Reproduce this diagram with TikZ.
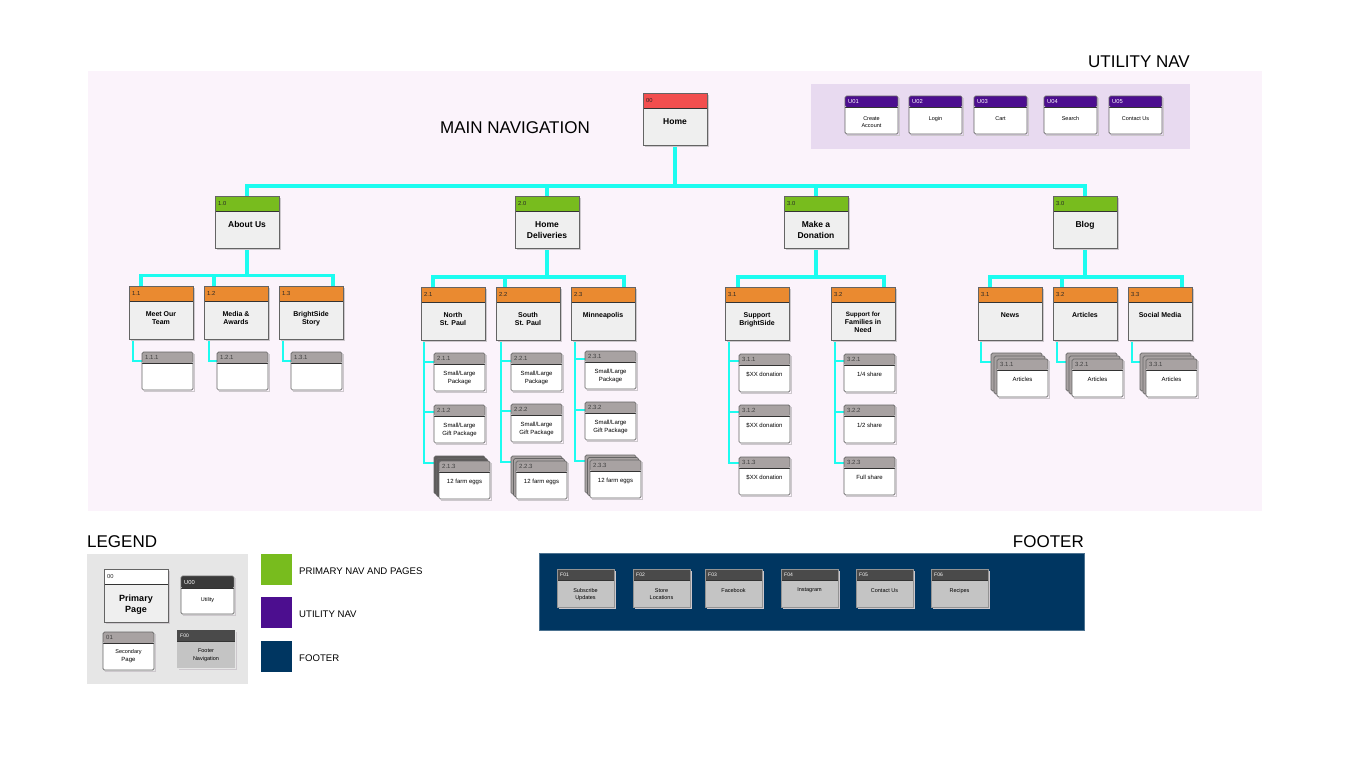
\documentclass[tikz,border=0pt]{standalone}
\usepackage{fontspec}
\setmainfont{Liberation Sans}
\usetikzlibrary{calc}
\pgfdeclarelayer{back}
\pgfdeclarelayer{wires}
\pgfsetlayers{back,wires,main}
\definecolor{pinkbg}{RGB}{251,243,251}
\definecolor{utilbg}{RGB}{232,218,240}
\definecolor{conncol}{RGB}{28,252,240}
\definecolor{hred}{RGB}{242,78,78}
\definecolor{pgreen}{RGB}{120,188,30}
\definecolor{porange}{RGB}{234,138,48}
\definecolor{hgray}{RGB}{168,162,162}
\definecolor{bodyg}{RGB}{239,239,239}
\definecolor{cardline}{RGB}{100,100,100}
\definecolor{upurple}{RGB}{76,14,143}
\definecolor{navy}{RGB}{0,54,97}
\definecolor{fhdr}{RGB}{74,74,74}
\definecolor{fbody}{RGB}{196,196,196}
\definecolor{legbg}{RGB}{230,230,230}
\definecolor{udark}{RGB}{58,58,58}
\definecolor{darkstack}{RGB}{95,92,92}
\definecolor{shadowc}{RGB}{205,200,205}
\tikzset{
  cardbase/.style={draw=cardline, line width=0.7pt, inner sep=0pt, outer sep=0pt, anchor=north west},
  hdrsep/.style={draw=black!80, line width=0.7pt},
  cardshadow/.style={draw=shadowc, line width=1pt},
  idbase/.style={anchor=west, inner sep=0pt, font=\fontsize{5.8}{6}\selectfont},
  txtbase/.style={anchor=north, align=center, inner sep=0pt},
  pri/.style={cardbase, minimum width=64pt, minimum height=52pt},
  prii/.style={idbase, text=black!85},
  prit/.style={txtbase, yshift=-10.5pt, font=\bfseries\fontsize{8.5}{11}\selectfont},
  sec/.style={cardbase, minimum width=64pt, minimum height=53.5pt},
  seci/.style={idbase, text=black!85},
  sect/.style={txtbase, yshift=-10pt, font=\bfseries\fontsize{7}{8}\selectfont},
  ter/.style={cardbase, minimum width=51pt, minimum height=38pt, rounded corners=1.5pt},
  teri/.style={idbase, text=black!75, font=\fontsize{6}{6}\selectfont},
  tert/.style={txtbase, yshift=-6.5pt, font=\fontsize{6}{8}\selectfont},
  utl/.style={cardbase, minimum width=53pt, minimum height=38pt, rounded corners=1.5pt},
  utli/.style={idbase, text=white},
  utlt/.style={txtbase, yshift=-9pt, font=\fontsize{5.5}{7.5}\selectfont},
  ftr/.style={cardbase, draw=fbody!75!black, line width=0.4pt, minimum width=57pt, minimum height=38pt},
  ftri/.style={idbase, text=white, font=\fontsize{5}{6}\selectfont},
  ftrt/.style={txtbase, yshift=-8pt, font=\fontsize{5.5}{7.5}\selectfont},
  lpri/.style={cardbase, minimum width=64pt, minimum height=53pt},
  lprii/.style={idbase, text=black!85},
  lprit/.style={txtbase, yshift=-11pt, font=\bfseries\fontsize{9}{11}\selectfont},
  lftr/.style={cardbase, draw=none, minimum width=58pt, minimum height=38pt},
  lftri/.style={idbase, text=white, font=\fontsize{5}{6}\selectfont},
  lftrt/.style={txtbase, yshift=-8pt, font=\fontsize{5.5}{7.5}\selectfont},
  panel/.style={anchor=north west, inner sep=0pt, outer sep=0pt},
  swatch/.style={anchor=north west, inner sep=0pt, minimum width=32pt, minimum height=32pt, draw=white, line width=0.4pt},
  title/.style={inner sep=0pt, font=\fontsize{17}{20}\selectfont},
  legtxt/.style={anchor=west, inner sep=0pt, font=\fontsize{9.6}{11}\selectfont},
  conn/.style={draw=conncol, line width=3.2pt},
  conn3/.style={draw=conncol, line width=2pt},
}
% #1 name, #2 x, #3 y, #4 type, #5 header fill, #6 body fill, #7 header height, #8 id, #9 text
\newcommand\card[9]{%
  \node[#4, fill=#6, path picture={%
      \fill[#5] (path picture bounding box.north west) rectangle ([yshift=-#7pt]path picture bounding box.north east);
      \draw[hdrsep] ([yshift=-#7pt]path picture bounding box.north west) -- ([yshift=-#7pt]path picture bounding box.north east);}]
    (#1) at (#2,#3) {};
  \draw[cardshadow] ($(#1.north east)+(1.2,2)$) -- ($(#1.south east)+(1.2,1.2)$) -- ($(#1.south west)+(2,1.2)$);
  \node[#4i] (#1i) at ($(#1.north west)+(3,#7/2)$) {#8};
  \node[#4t] (#1t) at ($(#1.north)+(0,#7)$) {#9};
}
% #1 name, #2 x, #3 y, #4 id, #5 text, #6 step, #7 back fill
\newcommand\stackcard[7]{%
  \node[ter, fill=#7] (#1a) at (#2,#3) {};
  \node[ter, fill=#7] (#1b) at ({#2+#6},{#3+#6}) {};
  \card{#1}{{#2+2*#6}}{{#3+2*#6}}{ter}{hgray}{white}{11}{#4}{#5}%
}
\newcommand\sub[4]{\draw[conn3] ($(#1.south west)+(#2,0)$) |- ($(#3.north west)+(0,#4)$);}
\begin{document}
\begin{tikzpicture}[x=1pt,y=-1pt]
\useasboundingbox (0,0) rectangle (1356,771);
\begin{pgfonlayer}{back}
  \node[panel, fill=pinkbg, minimum width=1174pt, minimum height=440pt] (mainbg) at (88,71) {};
  \node[panel, fill=utilbg, minimum width=379pt, minimum height=65pt] (utilbox) at (811,84) {};
  \node[panel, fill=legbg, minimum width=161pt, minimum height=130pt] (legbox) at (87,554) {};
  \node[panel, fill=navy, draw=navy!70!white, line width=0.6pt, minimum width=545pt, minimum height=77pt] (footbox) at (539,553) {};
\end{pgfonlayer}
% titles
\node[title] (tmain) at (515,128) {MAIN NAVIGATION};
\node[title, anchor=east] (tutil) at (1190,62) {UTILITY NAV};
\node[title, anchor=west] (tleg) at (87,542) {LEGEND};
\node[title, anchor=east] (tfoot) at (1084,542) {FOOTER};
% utility nav
\card{u1}{845}{96}{utl}{upurple}{white}{11}{U01}{Create\\Account}
\card{u2}{909}{96}{utl}{upurple}{white}{11}{U02}{Login}
\card{u3}{974}{96}{utl}{upurple}{white}{11}{U03}{Cart}
\card{u4}{1044}{96}{utl}{upurple}{white}{11}{U04}{Search}
\card{u5}{1109}{96}{utl}{upurple}{white}{11}{U05}{Contact Us}
% home and level 1
\card{home}{643}{93}{pri}{hred}{bodyg}{15}{00}{Home}
\card{about}{215}{196}{pri}{pgreen}{bodyg}{15}{1.0}{About Us}
\card{deliv}{515}{196}{pri}{pgreen}{bodyg}{15}{2.0}{Home\\Deliveries}
\card{donate}{784}{196}{pri}{pgreen}{bodyg}{15}{3.0}{Make a\\Donation}
\card{blog}{1053}{196}{pri}{pgreen}{bodyg}{15}{3.0}{Blog}
% level 2
\card{m11}{129}{286}{sec}{porange}{bodyg}{15}{1.1}{Meet Our\\Team}
\card{m12}{204}{286}{sec}{porange}{bodyg}{15}{1.2}{Media \&\\Awards}
\card{m13}{279}{286}{sec}{porange}{bodyg}{15}{1.3}{BrightSide\\Story}
\card{d21}{421}{287}{sec}{porange}{bodyg}{15}{2.1}{North\\St. Paul}
\card{d22}{496}{287}{sec}{porange}{bodyg}{15}{2.2}{South\\St. Paul}
\card{d23}{571}{287}{sec}{porange}{bodyg}{15}{2.3}{Minneapolis}
\card{n31}{725}{287}{sec}{porange}{bodyg}{15}{3.1}{Support\\BrightSide}
\card{n32}{831}{287}{sec}{porange}{bodyg}{15}{3.2}{\fontsize{6.3}{7}\selectfont Support for\\Families in\\Need}
\card{g31}{978}{287}{sec}{porange}{bodyg}{15}{3.1}{News}
\card{g32}{1053}{287}{sec}{porange}{bodyg}{15}{3.2}{Articles}
\card{g33}{1128}{287}{sec}{porange}{bodyg}{15}{3.3}{Social Media}
% level 3
\card{m111}{142}{352}{ter}{hgray}{white}{11}{1.1.1}{}
\card{m121}{217}{352}{ter}{hgray}{white}{11}{1.2.1}{}
\card{m131}{291}{352}{ter}{hgray}{white}{11}{1.3.1}{}
\card{d211}{434}{353}{ter}{hgray}{white}{11}{2.1.1}{Small/Large\\Package}
\card{d212}{434}{405}{ter}{hgray}{white}{11}{2.1.2}{Small/Large\\Gift Package}
\stackcard{d213}{434}{456}{2.1.3}{12 farm eggs}{2.5}{darkstack}
\card{d221}{511}{353}{ter}{hgray}{white}{11}{2.2.1}{Small/Large\\Package}
\card{d222}{511}{404}{ter}{hgray}{white}{11}{2.2.2}{Small/Large\\Gift Package}
\stackcard{d223}{511}{456}{2.2.3}{12 farm eggs}{2.5}{hgray}
\card{d231}{585}{351}{ter}{hgray}{white}{11}{2.3.1}{Small/Large\\Package}
\card{d232}{585}{402}{ter}{hgray}{white}{11}{2.3.2}{Small/Large\\Gift Package}
\stackcard{d233}{585}{455}{2.3.3}{12 farm eggs}{2.5}{hgray}
\card{n311}{739}{354}{ter}{hgray}{white}{11}{3.1.1}{\$XX donation}
\card{n312}{739}{405}{ter}{hgray}{white}{11}{3.1.2}{\$XX donation}
\card{n313}{739}{457}{ter}{hgray}{white}{11}{3.1.3}{\$XX donation}
\card{n321}{844}{354}{ter}{hgray}{white}{11}{3.2.1}{1/4 share}
\card{n322}{844}{405}{ter}{hgray}{white}{11}{3.2.2}{1/2 share}
\card{n323}{844}{457}{ter}{hgray}{white}{11}{3.2.3}{Full share}
\stackcard{g311}{991}{353}{3.1.1}{Articles}{3}{hgray}
\stackcard{g321}{1066}{353}{3.2.1}{Articles}{3}{hgray}
\stackcard{g331}{1140}{353}{3.3.1}{Articles}{3}{hgray}
% footer
\card{f1}{557}{569}{ftr}{fhdr}{fbody}{11}{F01}{Subscribe\\Updates}
\card{f2}{633}{569}{ftr}{fhdr}{fbody}{11}{F02}{Store\\Locations}
\card{f3}{705}{569}{ftr}{fhdr}{fbody}{11}{F03}{Facebook}
\card{f4}{781}{569}{ftr}{fhdr}{fbody}{11}{F04}{Instagram}
\card{f5}{856}{569}{ftr}{fhdr}{fbody}{11}{F05}{Contact Us}
\card{f6}{931}{569}{ftr}{fhdr}{fbody}{11}{F06}{Recipes}
% legend
\card{lp}{104}{569}{lpri}{white}{bodyg}{15}{00}{Primary\\Page}
\card{lu}{181}{576}{utl}{udark}{white}{12}{U00}{Utility}
\card{ls}{103}{632}{ter}{hgray}{white}{11}{01}{\fontsize{5.5}{7.5}\selectfont Secondary\\Page}
\card{lf}{177}{630}{lftr}{fhdr}{fbody}{11}{F00}{Footer\\Navigation}
\node[swatch, fill=pgreen] (sw1) at (260,553) {};
\node[swatch, fill=upurple] (sw2) at (260,596) {};
\node[swatch, fill=navy] (sw3) at (260,640) {};
\node[legtxt] (lt1) at (299,571) {PRIMARY NAV AND PAGES};
\node[legtxt] (lt2) at (299,614) {UTILITY NAV};
\node[legtxt] (lt3) at (299,658) {FOOTER};
% connectors
\begin{pgfonlayer}{wires}
  \coordinate (hj) at ($(home.south)+(0,41)$);
  \draw[conn] (home.south) -- (hj);
  \draw[conn] (about.north) |- (hj);
  \draw[conn] (blog.north) |- (hj);
  \draw[conn] (deliv.north) -- (deliv.north |- hj);
  \draw[conn] (donate.north) -- (donate.north |- hj);
  % about group
  \coordinate (b1) at ($(about.south)+(0,27.5)$);
  \draw[conn] (about.south) -- (b1);
  \draw[conn] ($(m11.north west)+(12,0)$) |- (b1);
  \draw[conn] ($(m13.north west)+(54,0)$) |- (b1);
  \draw[conn] ($(m12.north west)+(10,0)$) coordinate (t1) -- (t1 |- b1);
  % deliveries group
  \coordinate (b2) at ($(deliv.south)+(0,29)$);
  \draw[conn] (deliv.south) -- (b2);
  \draw[conn] ($(d21.north west)+(12,0)$) |- (b2);
  \draw[conn] ($(d23.north west)+(53,0)$) |- (b2);
  \draw[conn] ($(d22.north west)+(9,0)$) coordinate (t2) -- (t2 |- b2);
  % donation group
  \coordinate (b3) at ($(donate.south)+(0,29)$);
  \draw[conn] (donate.south) -- (b3);
  \draw[conn] ($(n31.north west)+(13,0)$) |- (b3);
  \draw[conn] ($(n32.north west)+(53,0)$) |- (b3);
  % blog group
  \coordinate (b4) at ($(blog.south)+(0,29)$);
  \draw[conn] (blog.south) -- (b4);
  \draw[conn] ($(g31.north west)+(12,0)$) |- (b4);
  \draw[conn] ($(g33.north west)+(54,0)$) |- (b4);
  \draw[conn] ($(g32.north west)+(9,0)$) coordinate (t4) -- (t4 |- b4);
  % level 3
  \sub{m11}{4}{m111}{9}
  \sub{m12}{5}{m121}{9}
  \sub{m13}{4}{m131}{9}
  \sub{d21}{3}{d211}{9}
  \sub{d21}{3}{d212}{7}
  \sub{d21}{3}{d213a}{7}
  \sub{d22}{5}{d221}{8}
  \sub{d22}{5}{d222}{7}
  \sub{d22}{5}{d223a}{6}
  \sub{d23}{4}{d231}{8}
  \sub{d23}{4}{d232}{8}
  \sub{d23}{4}{d233a}{6}
  \sub{n31}{4}{n311}{7}
  \sub{n31}{4}{n312}{7}
  \sub{n31}{4}{n313}{6}
  \sub{n32}{4}{n321}{7}
  \sub{n32}{4}{n322}{7}
  \sub{n32}{4}{n323}{6}
  \sub{g31}{3}{g311a}{9}
  \sub{g32}{4}{g321a}{9}
  \sub{g33}{4}{g331a}{9}
\end{pgfonlayer}
\end{tikzpicture}
\end{document}
